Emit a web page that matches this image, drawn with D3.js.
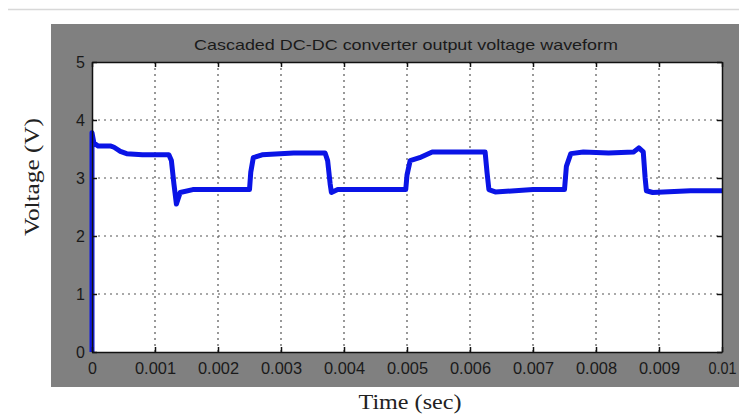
<!DOCTYPE html>
<html>
<head>
<meta charset="utf-8">
<script src="https://cdn.jsdelivr.net/npm/d3@7"></script>
<style>
html,body{margin:0;padding:0;background:#fff;}
svg{display:block;}
</style>
</head>
<body>
<svg id="chart" width="739" height="415"></svg>
<script>
const titleText = "Cascaded DC-DC  converter output voltage waveform";
const xLabel = "Time (sec)";
const yLabel = "Voltage (V)";
const xTicks = [0, 0.001, 0.002, 0.003, 0.004, 0.005, 0.006, 0.007, 0.008, 0.009, 0.01];
const xTickLabels = ["0","0.001","0.002","0.003","0.004","0.005","0.006","0.007","0.008","0.009","0.01"];
const yTicks = [0, 1, 2, 3, 4, 5];
// waveform samples: time (s)
const time = [0, 0, 0.00003, 0.0001, 0.0003, 0.00035, 0.00045, 0.00055, 0.0008, 0.00122, 0.00126,
  0.0013, 0.00134, 0.0014, 0.0016, 0.0025, 0.00252, 0.00256, 0.0027, 0.0032, 0.0037, 0.00374,
  0.00378, 0.0038, 0.0039, 0.0045, 0.00498, 0.005, 0.00505, 0.0052, 0.0054, 0.006, 0.00624,
  0.00627, 0.0063, 0.0064, 0.007, 0.0075, 0.00753, 0.0076, 0.0078, 0.0082, 0.0086, 0.00868,
  0.00875, 0.00878, 0.0088, 0.0089, 0.0095, 0.01];
// voltage (V)
const voltage = [0, 3.78, 3.6, 3.55, 3.55, 3.53, 3.46, 3.42, 3.4, 3.4, 3.3,
  2.9, 2.55, 2.75, 2.8, 2.8, 3.1, 3.35, 3.4, 3.43, 3.43, 3.3,
  2.9, 2.75, 2.8, 2.8, 2.8, 3.05, 3.3, 3.35, 3.45, 3.45, 3.45,
  3.1, 2.8, 2.76, 2.8, 2.8, 3.2, 3.42, 3.45, 3.43, 3.45, 3.52,
  3.45, 3.0, 2.78, 2.75, 2.78, 2.78];

const svg = d3.select("#chart");

// top separator line
svg.append("line").attr("x1", 8).attr("x2", 739).attr("y1", 9.5).attr("y2", 9.5)
  .attr("stroke", "#d8d8d8").attr("stroke-width", 1.5);

// gray figure panel
svg.append("rect").attr("x", 51).attr("y", 24).attr("width", 688).attr("height", 363)
  .attr("fill", "#808080");

const m = {l: 92, t: 62, r: 722, b: 352};
const x = d3.scaleLinear().domain([0, 0.01]).range([m.l, m.r]);
const y = d3.scaleLinear().domain([0, 5]).range([m.b, m.t]);

svg.append("rect").attr("x", m.l).attr("y", m.t).attr("width", m.r - m.l).attr("height", m.b - m.t)
  .attr("fill", "#fff");

// grid
const grid = svg.append("g");
grid.selectAll(".gx").data(xTicks.slice(1, -1)).join("line")
  .attr("x1", d => x(d)).attr("x2", d => x(d)).attr("y1", m.t).attr("y2", m.b)
  .attr("stroke", "#555").attr("stroke-width", 1.2).attr("stroke-dasharray", "2,4");
grid.selectAll(".gy").data(yTicks.slice(1, -1)).join("line")
  .attr("x1", m.l).attr("x2", m.r).attr("y1", d => y(d)).attr("y2", d => y(d))
  .attr("stroke", "#555").attr("stroke-width", 1.2).attr("stroke-dasharray", "2,4");

// waveform
const pts = time.map((t, i) => [t, voltage[i]]);
svg.append("path").datum(pts)
  .attr("d", d3.line().x(d => x(d[0])).y(d => y(d[1])))
  .attr("fill", "none").attr("stroke", "#0a14e6").attr("stroke-width", 5)
  .attr("stroke-linejoin", "round");
svg.append("line").attr("x1", x(0)+0.5).attr("x2", x(0)+0.5).attr("y1", y(0)).attr("y2", y(3.6))
  .attr("stroke", "#2233dd").attr("stroke-width", 2);

// axes
const xAxis = d3.axisBottom(x).tickValues(xTicks).tickFormat((d, i) => xTickLabels[i])
  .tickSizeInner(-5).tickSizeOuter(0).tickPadding(11);
const yAxis = d3.axisLeft(y).tickValues(yTicks).tickFormat(d3.format("d"))
  .tickSizeInner(-5).tickSizeOuter(0).tickPadding(7);
const gx = svg.append("g").attr("transform", `translate(0,${m.b})`).call(xAxis);
const gy = svg.append("g").attr("transform", `translate(${m.l},0)`).call(yAxis);
const gxt = svg.append("g").attr("transform", `translate(0,${m.t})`)
  .call(d3.axisTop(x).tickValues(xTicks).tickFormat("").tickSizeInner(-5).tickSizeOuter(0));
const gyr = svg.append("g").attr("transform", `translate(${m.r},0)`)
  .call(d3.axisRight(y).tickValues(yTicks).tickFormat("").tickSizeInner(-5).tickSizeOuter(0));
[gx, gy, gxt, gyr].forEach(g => {
  g.select(".domain").attr("stroke", "#111").attr("stroke-width", 1.5);
  g.selectAll(".tick line").attr("stroke", "#111").attr("stroke-width", 1.5);
  g.selectAll("text").attr("fill", "#1a1a1a").style("font-family", "Liberation Sans, Arial, sans-serif")
    .style("font-size", "16px");
});
gx.selectAll("text").attr("textLength", (d, i) => i === 0 ? null : (i === 10 ? 28 : 41))
  .attr("lengthAdjust", "spacingAndGlyphs");

// title
svg.append("text").attr("x", 406).attr("y", 50).attr("text-anchor", "middle")
  .style("font-family", "Liberation Sans, Arial, sans-serif").style("font-size", "15px")
  .attr("fill", "#1a1a1a").attr("textLength", 424).attr("lengthAdjust", "spacingAndGlyphs")
  .text(titleText);

// axis labels
svg.append("text").attr("x", 410).attr("y", 409).attr("text-anchor", "middle")
  .style("font-family", "Liberation Serif, Times New Roman, serif").style("font-size", "22px")
  .attr("fill", "#222").attr("textLength", 103).attr("lengthAdjust", "spacingAndGlyphs").text(xLabel);
svg.append("text").attr("transform", "translate(39,177) rotate(-90)").attr("text-anchor", "middle")
  .style("font-family", "Liberation Serif, Times New Roman, serif").style("font-size", "22px")
  .attr("fill", "#222").attr("textLength", 118).attr("lengthAdjust", "spacingAndGlyphs").text(yLabel);
</script>
</body>
</html>
